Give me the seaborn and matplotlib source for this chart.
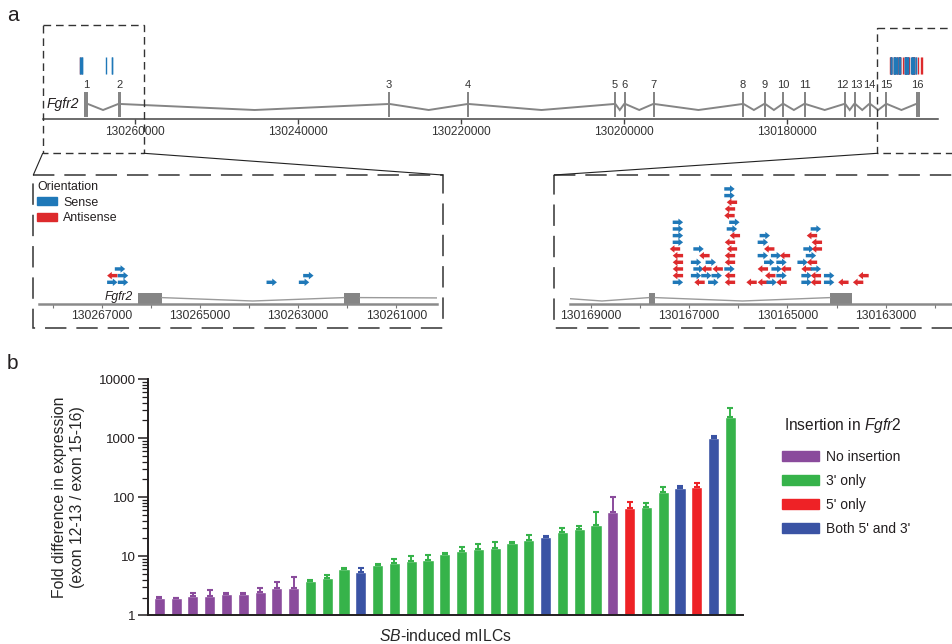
import numpy as np
import pandas as pd
import matplotlib
matplotlib.use("Agg")
import matplotlib.pyplot as plt
from matplotlib.patches import Patch, Rectangle
from matplotlib.path import Path
from matplotlib import ticker
import seaborn as sns

# ---------------- data: panel a ----------------
# Fgfr2 exons (minus strand, start = 5' end = higher coordinate)
exon_start = [130266267, 130262065, 130228875, 130219175, 130201175, 130199955, 130196395,
              130185435, 130182775, 130180525, 130177865, 130172955, 130171725, 130169885,
              130167819, 130164132]
exon_end = [130265778, 130261739, 130228725, 130219025, 130201025, 130199805, 130196245,
            130185285, 130182625, 130180375, 130177715, 130172805, 130171575, 130169735,
            130167697, 130163690]

top_ticks = [130260000, 130240000, 130220000, 130200000, 130180000]
left_ticks = [130267000, 130265000, 130263000, 130261000]
right_ticks = [130169000, 130167000, 130165000, 130163000]

# SB insertions: position, stack level in the zoomed track, orientation (S sense / A antisense)
ins_pos = [
    # 5' cluster
    130266784, 130266566, 130263537, 130262879,
    130266784, 130266566, 130262791,
    130266627,
    # 3' cluster
    130167230, 130166790, 130166510, 130166170, 130165730, 130165500, 130165320, 130165120,
    130164610, 130164420, 130164150, 130163860, 130163560,
    130167230, 130166860, 130166650, 130166440, 130166170, 130165350, 130165120, 130164610,
    130164420, 130164150, 130163450,
    130167230, 130166810, 130166650, 130166420, 130166180, 130165500, 130165220, 130165030,
    130164610, 130164420,
    130167230, 130166860, 130166560, 130166170, 130165370, 130165120, 130164690, 130164500,
    130167230, 130166690, 130166170, 130165500, 130165230, 130165050, 130164520,
    130167290, 130166810, 130166130, 130165370, 130164570, 130164400,
    130167230, 130166170, 130165500, 130164400,
    130167230, 130166070, 130165460, 130164500,
    130167230, 130166130, 130164420,
    130167230, 130166080,
    130166180, 130166170, 130166130, 130166180, 130166180,
]
ins_level = ([0] * 4 + [1] * 3 + [2]
             + [0] * 13 + [1] * 11 + [2] * 10 + [3] * 8 + [4] * 7 + [5] * 6 + [6] * 4
             + [7] * 4 + [8] * 3 + [9] * 2 + [10, 11, 12, 13, 14])
ins_orient = (list("SSSS") + list("ASS") + list("S")
              + list("SASAAASASASAA") + list("ASSSAASSASA") + list("ASAASASAAS")
              + list("ASSASSSA") + list("AAASSAS") + list("ASAASA") + list("SASA")
              + list("SASA") + list("SSS") + list("SS") + list("AAASS"))

# ---------------- data: panel b ----------------
fold = [1.95, 1.95, 2.15, 2.15, 2.3, 2.3, 2.5, 2.85, 2.95, 3.75, 4.3, 6.0, 5.5, 7.2, 7.8,
        8.3, 8.7, 10.8, 12.4, 13.0, 14.0, 16.5, 18.5, 21.5, 26.0, 29.0, 34.0, 57.0, 66.0,
        69.0, 120.0, 143.0, 147.0, 1000.0, 2300.0]
fold_upper = [2.05, 2.0, 2.4, 2.7, 2.4, 2.4, 2.85, 3.7, 4.4, 3.9, 4.75, 6.3, 6.4, 7.4, 9.1,
              10.2, 10.5, 11.5, 14.5, 16.0, 17.5, 17.2, 22.5, 22.0, 29.5, 32.5, 55.0, 100.0,
              83.0, 79.0, 150.0, 155.0, 175.0, 1080.0, 3200.0]
insertion = (["No insertion"] * 9 + ["3' only"] * 3 + ["Both 5' and 3'"] + ["3' only"] * 10
             + ["Both 5' and 3'"] + ["3' only"] * 3 + ["No insertion", "5' only", "3' only",
             "3' only", "Both 5' and 3'", "5' only", "Both 5' and 3'", "3' only"])
legend_order = ["No insertion", "3' only", "5' only", "Both 5' and 3'"]
ytick_vals = [1, 10, 100, 1000, 10000]

# ---------------- style ----------------
sns.set_style("ticks")
plt.rcParams["font.family"] = ["Liberation Sans", "DejaVu Sans"]
plt.rcParams["mathtext.fontset"] = "custom"
plt.rcParams["mathtext.rm"] = "Liberation Sans"
plt.rcParams["mathtext.it"] = "Liberation Sans:italic"
TXT = "#231f20"
plt.rcParams["text.color"] = TXT

bar_colors = {"No insertion": "#8a4b9c", "3' only": "#36b34a",
              "5' only": "#ee2226", "Both 5' and 3'": "#3a53a4"}
orient_colors = {"Sense": "#1f78b8", "Antisense": "#dd2a2c"}
GREY = "#858585"

W, H = 953, 644
fig = plt.figure(figsize=(W / 100, H / 100), dpi=100)


def add_px_axes(left, top, right, bottom, **kw):
    return fig.add_axes([left / W, 1 - bottom / H, (right - left) / W, (bottom - top) / H], **kw)


# overlay for zoom boxes, connectors and panel letters (pixel coordinates)
ax_ov = add_px_axes(0, 0, W, H, zorder=10)
ax_ov.set_xlim(0, W)
ax_ov.set_ylim(H, 0)
ax_ov.axis("off")

df_ins = pd.DataFrame({"pos": ins_pos, "level": ins_level,
                       "orient": ["Sense" if o == "S" else "Antisense" for o in ins_orient]})
df_ins["y"] = 22 + 6.67 * df_ins["level"]

# ---------------- gene overview track ----------------
ax_g = add_px_axes(42.7, 20, 938, 119)
bp_top = 80000 / 651.7
ax_g.set_xlim(130260000 + (135 - 42.7) * bp_top, 130260000 - (938 - 135) * bp_top)
ax_g.set_ylim(0, 99)

centers = [(s + e) / 2 for s, e in zip(exon_start, exon_end)]
widths = [max(s - e, 250) for s, e in zip(exon_start, exon_end)]
ax_g.bar(centers, 24.7, width=widths, bottom=2.3, color=GREY, linewidth=0)
for i in range(len(exon_start) - 1):
    mid = (exon_end[i] + exon_start[i + 1]) / 2
    ax_g.plot([exon_end[i], mid, exon_start[i + 1]], [15, 9, 15], color=GREY, lw=1.4,
              solid_joinstyle="miter")
# exons 12 and 13 are close together: nudge their numbers apart a little
label_nudge = {11: -1.8, 12: 1.0}
for i, c in enumerate(centers):
    ax_g.annotate(str(i + 1), xy=(c, 34), xytext=(label_nudge.get(i, 0), 0),
                  textcoords="offset points", ha="center", va="center", fontsize=8.0,
                  color="#333333")
ax_g.annotate("Fgfr2", xy=(exon_start[0], 15), xytext=(-3.5, 0), textcoords="offset points",
              ha="right", va="center", style="italic", fontsize=10)
# antisense marks first so the sense ones sit on top, as in the figure
for o in ["Antisense", "Sense"]:
    sel = df_ins[df_ins["orient"] == o]
    ax_g.vlines(sel["pos"], 44.7, 62.3, colors=orient_colors[o], lw=1)

ax_g.set_xticks(top_ticks)
ax_g.set_xticklabels([str(t) for t in top_ticks])
ax_g.tick_params(axis="x", direction="out", length=3.5, width=1, color="#444444",
                 labelsize=8.6, pad=1.5, labelcolor="#333333")
ax_g.set_yticks([])
for s in ["top", "left", "right"]:
    ax_g.spines[s].set_visible(False)
ax_g.spines["bottom"].set_color("#444444")
ax_g.spines["bottom"].set_linewidth(1.1)
ax_g.patch.set_alpha(0)

# ---------------- zoomed tracks ----------------
right_arrow = Path([(-1, -0.33), (0.1, -0.33), (0.1, -0.72), (1, 0), (0.1, 0.72),
                    (0.1, 0.33), (-1, 0.33), (-1, -0.33)],
                   [Path.MOVETO] + [Path.LINETO] * 6 + [Path.CLOSEPOLY])
left_arrow = Path(right_arrow.vertices * np.array([-1, 1]), right_arrow.codes)

bp_zoom = 1000 / 49.1
ax_l = add_px_axes(39.3, 175, 437.3, 304.3)
ax_r = add_px_axes(570, 175, 953, 304.3)
lims = {ax_l: (130267000 + (101.7 - 39.3) * bp_zoom, 130267000 - (437.3 - 101.7) * bp_zoom),
        ax_r: (130169000 + (591 - 570) * bp_zoom, 130169000 - (953 - 591) * bp_zoom)}

for ax, ticks in [(ax_l, left_ticks), (ax_r, right_ticks)]:
    hi, lo = lims[ax]
    ax.bar(centers, 11.6, width=[s - e for s, e in zip(exon_start, exon_end)], bottom=0,
           color=GREY, linewidth=0)
    for i in range(len(exon_start) - 1):
        mid = (exon_end[i] + exon_start[i + 1]) / 2
        ax.plot([exon_end[i], mid, exon_start[i + 1]], [6.7, 3.3, 6.7], color="#9a9a9a", lw=1)
    sub = df_ins[(df_ins["pos"] < hi) & (df_ins["pos"] > lo)]
    sns.scatterplot(data=sub, x="pos", y="y", hue="orient", style="orient",
                    palette=orient_colors, markers={"Sense": right_arrow, "Antisense": left_arrow},
                    s=56, linewidth=0, legend=False, ax=ax, zorder=3)
    ax.set_xlim(hi, lo)
    ax.set_ylim(0, 129.3)
    ax.set_xlabel("")
    ax.set_ylabel("")
    ax.set_xticks(ticks)
    ax.set_xticklabels([str(t) for t in ticks])
    ax.xaxis.set_minor_locator(ticker.MultipleLocator(1000))
    ax.tick_params(axis="x", which="both", direction="out", length=3, width=0.8,
                   color="#777777", labelsize=8.7, pad=0.8, labelcolor="#333333")
    ax.set_yticks([])
    for s in ["top", "left", "right"]:
        ax.spines[s].set_visible(False)
    ax.spines["bottom"].set_color("#8a8a8a")
    ax.spines["bottom"].set_linewidth(1.8)
    ax.patch.set_alpha(0)

ax_l.annotate("Fgfr2", xy=(exon_start[0], 7.3), xytext=(-3.8, 0), textcoords="offset points",
              ha="right", va="center", style="italic", fontsize=8.7)
ax_l.legend(handles=[Patch(color=orient_colors["Sense"], label="Sense"),
                     Patch(color=orient_colors["Antisense"], label="Antisense")],
            title="Orientation", loc="upper left", bbox_to_anchor=(37, 181),
            bbox_transform=ax_ov.transData, frameon=False, fontsize=8.9, title_fontsize=8.9,
            handlelength=1.6, handleheight=0.65, handletextpad=0.5, labelspacing=0.3,
            borderpad=0, borderaxespad=0, alignment="left")

# zoom boxes and connectors
short_dash = (0, (5.5, 3.5))
long_dash = (0, (14, 6.5))
ax_ov.add_patch(Rectangle((42.7, 25), 101.3, 128.3, fill=False, ls=short_dash, lw=1, ec="#333333"))
ax_ov.add_patch(Rectangle((877.3, 27.7), 120, 125.6, fill=False, ls=short_dash, lw=1, ec="#333333"))
ax_ov.add_patch(Rectangle((33.3, 175), 409.4, 153.3, fill=False, ls=long_dash, lw=1.1, ec="#333333"))
ax_ov.add_patch(Rectangle((554, 175), 440, 153.3, fill=False, ls=long_dash, lw=1.1, ec="#333333"))
ax_ov.plot([42.7, 33.3], [153.3, 175], color="#222222", lw=0.8)
ax_ov.plot([144, 442.7], [153.3, 175], color="#222222", lw=0.8)
ax_ov.plot([877.3, 554], [153.3, 175], color="#222222", lw=0.8)
ax_ov.text(7, 15, "a", fontsize=15, ha="left", va="center")
ax_ov.text(7, 363, "b", fontsize=15, ha="left", va="center")

# ---------------- panel b ----------------
ax_b = add_px_axes(148, 379, 743, 615.3)
df_b = pd.DataFrame({"sample": range(len(fold)), "fold": fold, "insertion": insertion})
sns.barplot(data=df_b, x="sample", y="fold", hue="insertion", palette=bar_colors,
            dodge=False, width=0.66, saturation=1, errorbar=None, legend=False, ax=ax_b)
for grp, col in bar_colors.items():
    sel = df_b["insertion"] == grp
    x = df_b.index[sel]
    y = np.array(fold)[sel]
    up = np.array(fold_upper)[sel]
    ax_b.errorbar(x, y, yerr=[np.zeros(len(y)), up - y], fmt="none", ecolor=col,
                  elinewidth=1.4, capsize=2.2, capthick=1.5)
ax_b.set_yscale("log")
ax_b.set_ylim(1, 10000)
ax_b.set_xlim(-0.67, len(fold) - 0.25)
ax_b.yaxis.set_major_locator(ticker.FixedLocator(ytick_vals))
ax_b.yaxis.set_major_formatter(ticker.FixedFormatter([str(v) for v in ytick_vals]))
ax_b.yaxis.set_minor_locator(ticker.LogLocator(base=10, subs=np.arange(2, 10)))
ax_b.yaxis.set_minor_formatter(ticker.NullFormatter())
ax_b.set_xticks([])
ax_b.tick_params(axis="y", which="major", length=7, width=1.1, labelsize=9.6, pad=2,
                 color=TXT, labelcolor=TXT)
ax_b.tick_params(axis="y", which="minor", length=4, width=0.9, color=TXT)
sns.despine(ax=ax_b)
for s in ["left", "bottom"]:
    ax_b.spines[s].set_linewidth(1.4)
    ax_b.spines[s].set_color(TXT)
ax_b.set_ylabel("Fold difference in expression\n(exon 12-13 / exon 15-16)", fontsize=11.3,
                labelpad=10)
ax_b.set_xlabel(r"$\mathit{SB}$-induced mILCs", fontsize=11.3, labelpad=9)

ax_ov.text(784, 425, r"Insertion in $\mathit{Fgfr2}$", fontsize=11.2, ha="left", va="center")
ax_b.legend(handles=[Patch(color=bar_colors[k], label=k) for k in legend_order],
            loc="upper left", bbox_to_anchor=(782, 450), bbox_transform=ax_ov.transData,
            frameon=False, fontsize=10, handlelength=2.7, handleheight=0.7, handletextpad=0.5,
            labelspacing=0.72, borderpad=0, borderaxespad=0)

fig.savefig("out.png", dpi=100)
